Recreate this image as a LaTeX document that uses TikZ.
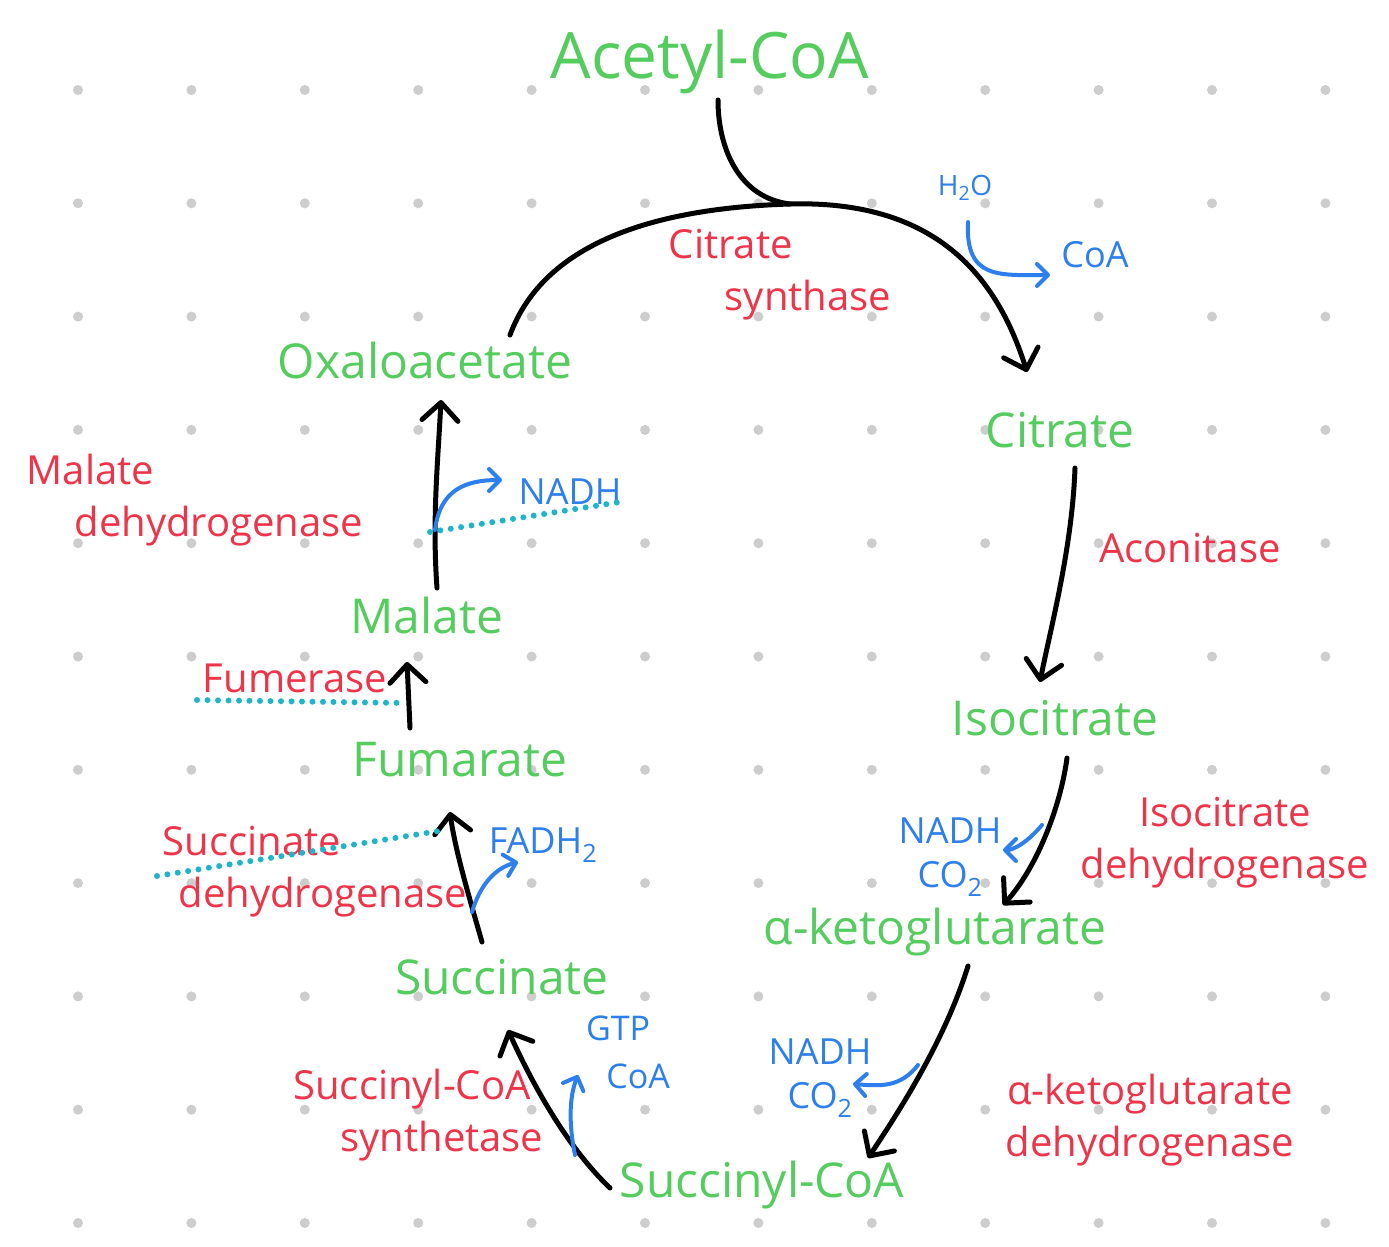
\documentclass[tikz,border=0pt]{standalone}
\usepackage{fontspec}
\setmainfont{Open Sans}
\usepackage{xcolor}
\usetikzlibrary{arrows.meta,positioning,calc}
\definecolor{kcGreen}{HTML}{55CC5E}
\definecolor{kcRed}{HTML}{EF3349}
\definecolor{kcBlue}{HTML}{2C7FEC}
\definecolor{kcTeal}{HTML}{1FB5C9}
\definecolor{kcDot}{HTML}{CDCDCD}
\tikzset{
  metabolite/.style={text=kcGreen,inner sep=0pt,font=\fontsize{48}{52}\selectfont},
  enzyme/.style={text=kcRed,inner sep=0pt,align=center,font=\fontsize{40}{52}\selectfont},
  cofactor/.style={text=kcBlue,inner sep=0pt,align=center,font=\fontsize{36}{44}\selectfont},
  cycle line/.style={line width=5pt,draw=black,line cap=round},
  cycle arrow/.style={cycle line,-{Straight Barb[length=18pt,width=36pt,round]}},
  side arrow/.style={-{Straight Barb[length=11pt,width=22pt,round]},line width=4pt,draw=kcBlue,line cap=round},
  enzyme mark/.style={draw=kcTeal,line width=6pt,dash pattern=on 0pt off 10.5pt,line cap=round}
}
\begin{document}
\begin{tikzpicture}[x=1pt,y=-1pt]
\useasboundingbox[fill=white] (0,0) rectangle (1389,1247);
\foreach \i in {0,...,11}
  \foreach \j in {0,...,10}
    \fill[kcDot] ({78+113.4*\i},{90+113.3*\j}) circle[radius=5pt];
\node[metabolite,font=\fontsize{64}{70}\selectfont] (acetyl) at (710,62) {Acetyl-CoA};
\node[metabolite] (oaa) at (425,360) {Oxaloacetate};
\node[metabolite] (cit) at (1060,430) {Citrate};
\node[metabolite] (isocit) at (1055,718) {Isocitrate};
\node[metabolite] (akg) at (935,932) {α-ketoglutarate};
\node[metabolite] (succoa) at (762,1185) {Succinyl-CoA};
\node[metabolite] (succ) at (502,977) {Succinate};
\node[metabolite] (fum) at (460,760) {Fumarate};
\node[metabolite] (mal) at (427,615) {Malate};
\node[enzyme,align=left] (cs) at (780,275) {Citrate\\\hspace*{1.4em}synthase};
\node[enzyme] (acon) at (1190,548) {Aconitase};
\node[enzyme] (icdh) at (1225,843) {Isocitrate\\dehydrogenase};
\node[enzyme] (akgdh) at (1150,1120) {α-ketoglutarate\\dehydrogenase};
\node[enzyme] (scs) at (412,1115) {Succinyl-CoA\\\hspace*{1.5em}synthetase};
\node[enzyme,align=left] (sdh) at (315,872) {Succinate\\\hspace*{0.4em}dehydrogenase};
\node[enzyme] (fumase) at (295,678) {Fumerase};
\node[enzyme,align=left] (mdh) at (195,500) {Malate\\\hspace*{1.2em}dehydrogenase};
\node[cofactor,font=\fontsize{28}{32}\selectfont] (h2o) at (965,188) {H\textsubscript{2}O};
\node[cofactor] (coa) at (1095,255) {CoA};
\node[cofactor] (nadh1) at (570,492) {NADH};
\node[cofactor] (fadh) at (543,845) {FADH\textsubscript{2}};
\node[cofactor] (nadh2) at (950,857) {NADH\\CO\textsubscript{2}};
\node[cofactor,align=left,font=\fontsize{34}{48}\selectfont] (gtp) at (628,1052) {GTP\\\hspace*{0.6em}CoA};
\node[cofactor] (nadh3) at (820,1078) {NADH\\CO\textsubscript{2}};
\coordinate (join) at (790,204);
\draw[cycle line] ($(acetyl)+(8,38)$) .. controls (718,150) and (740,198) .. (join);
\draw[cycle arrow] ($(oaa)+(85,-25)$) .. controls (545,240) and (660,208) .. (join)
  .. controls (930,200) and (995,270) .. ($(cit)+(-33,-58)$);
\draw[cycle arrow] ($(cit)+(15,38)$) .. controls (1072,550) and (1050,630) .. ($(isocit)+(-15,-36)$);
\draw[cycle arrow] ($(isocit)+(12,40)$) .. controls (1060,810) and (1035,870) .. ($(akg)+(68,-27)$);
\draw[cycle arrow] ($(akg)+(33,34)$) .. controls (945,1040) and (900,1110) .. ($(succoa)+(106,-27)$);
\draw[cycle arrow] ($(succoa)+(-152,3)$) .. controls (570,1150) and (535,1090) .. ($(succ)+(6,53)$);
\draw[cycle arrow] ($(succ)+(-20,-35)$) .. controls (470,900) and (455,850) .. ($(fum)+(-10,52)$);
\draw[cycle arrow] ($(fum)+(-50,-32)$) -- ($(mal)+(-20,47)$);
\draw[cycle arrow] ($(mal)+(10,-27)$) .. controls (432,520) and (438,460) .. ($(oaa)+(16,40)$);
\draw[side arrow] ($(h2o)+(3,34)$) .. controls (965,280) and (1000,275) .. ($(coa)+(-45,20)$);
\draw[side arrow] ($(nadh1)+(-135,38)$) .. controls (440,490) and (465,480) .. ($(nadh1)+(-68,-12)$);
\draw[side arrow] ($(fadh)+(-71,67)$) .. controls (480,885) and (495,868) .. ($(fadh)+(-25,17)$);
\draw[side arrow] ($(nadh2)+(92,-32)$) .. controls (1025,845) and (1012,850) .. ($(nadh2)+(53,-7)$);
\draw[side arrow] ($(gtp)+(-53,103)$) .. controls (568,1120) and (570,1095) .. ($(gtp)+(-50,23)$);
\draw[side arrow] ($(nadh3)+(98,-13)$) .. controls (900,1088) and (880,1086) .. ($(nadh3)+(33,6)$);
\draw[enzyme mark] ($(fumase)+(-98,22)$) -- ($(fumase)+(110,25)$);
\draw[enzyme mark] ($(sdh)+(-158,4)$) -- ($(sdh)+(130,-42)$);
\draw[enzyme mark] ($(nadh1)+(-140,40)$) -- ($(nadh1)+(50,10)$);
\end{tikzpicture}
\end{document}
